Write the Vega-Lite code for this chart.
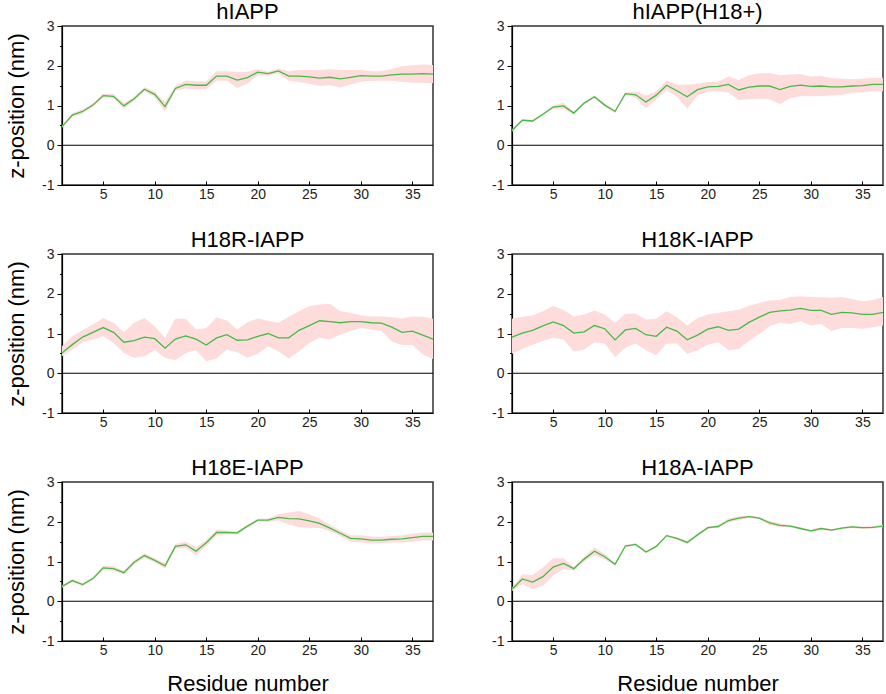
{
"$schema": "https://vega.github.io/schema/vega-lite/v6.json",
"padding": {"left": 4, "top": 0, "right": 2, "bottom": 0},
"background": "white",
"datasets": {
"d1": [
{"r":1,"z":0.47,"lo":0.44,"hi":0.50},{"r":2,"z":0.76,"lo":0.71,"hi":0.81},{"r":3,"z":0.85,"lo":0.80,"hi":0.90},{"r":4,"z":1.01,"lo":0.96,"hi":1.06},{"r":5,"z":1.25,"lo":1.20,"hi":1.30},{"r":6,"z":1.23,"lo":1.18,"hi":1.28},{"r":7,"z":0.99,"lo":0.92,"hi":1.06},{"r":8,"z":1.17,"lo":1.12,"hi":1.22},{"r":9,"z":1.41,"lo":1.36,"hi":1.46},{"r":10,"z":1.28,"lo":1.21,"hi":1.35},{"r":11,"z":0.97,"lo":0.85,"hi":1.09},{"r":12,"z":1.43,"lo":1.37,"hi":1.49},{"r":13,"z":1.53,"lo":1.43,"hi":1.63},{"r":14,"z":1.51,"lo":1.41,"hi":1.61},{"r":15,"z":1.51,"lo":1.41,"hi":1.61},{"r":16,"z":1.74,"lo":1.62,"hi":1.86},{"r":17,"z":1.74,"lo":1.62,"hi":1.86},{"r":18,"z":1.64,"lo":1.44,"hi":1.84},{"r":19,"z":1.70,"lo":1.55,"hi":1.85},{"r":20,"z":1.84,"lo":1.76,"hi":1.92},{"r":21,"z":1.80,"lo":1.75,"hi":1.85},{"r":22,"z":1.87,"lo":1.81,"hi":1.93},{"r":23,"z":1.74,"lo":1.62,"hi":1.86},{"r":24,"z":1.74,"lo":1.59,"hi":1.89},{"r":25,"z":1.72,"lo":1.55,"hi":1.89},{"r":26,"z":1.69,"lo":1.49,"hi":1.89},{"r":27,"z":1.71,"lo":1.51,"hi":1.91},{"r":28,"z":1.67,"lo":1.45,"hi":1.89},{"r":29,"z":1.71,"lo":1.53,"hi":1.89},{"r":30,"z":1.75,"lo":1.60,"hi":1.90},{"r":31,"z":1.74,"lo":1.62,"hi":1.86},{"r":32,"z":1.74,"lo":1.62,"hi":1.86},{"r":33,"z":1.77,"lo":1.62,"hi":1.92},{"r":34,"z":1.79,"lo":1.59,"hi":1.99},{"r":35,"z":1.79,"lo":1.57,"hi":2.01},{"r":36,"z":1.80,"lo":1.57,"hi":2.03},{"r":37,"z":1.79,"lo":1.56,"hi":2.02}
],
"d2": [
{"r":1,"z":0.37,"lo":0.34,"hi":0.40},{"r":2,"z":0.63,"lo":0.60,"hi":0.66},{"r":3,"z":0.61,"lo":0.58,"hi":0.64},{"r":4,"z":0.78,"lo":0.75,"hi":0.81},{"r":5,"z":0.96,"lo":0.92,"hi":1.00},{"r":6,"z":0.99,"lo":0.91,"hi":1.07},{"r":7,"z":0.81,"lo":0.77,"hi":0.85},{"r":8,"z":1.06,"lo":1.03,"hi":1.09},{"r":9,"z":1.22,"lo":1.19,"hi":1.25},{"r":10,"z":1.01,"lo":0.97,"hi":1.05},{"r":11,"z":0.85,"lo":0.81,"hi":0.89},{"r":12,"z":1.30,"lo":1.27,"hi":1.33},{"r":13,"z":1.27,"lo":1.19,"hi":1.35},{"r":14,"z":1.09,"lo":0.93,"hi":1.25},{"r":15,"z":1.26,"lo":1.16,"hi":1.36},{"r":16,"z":1.51,"lo":1.39,"hi":1.63},{"r":17,"z":1.37,"lo":1.22,"hi":1.52},{"r":18,"z":1.22,"lo":0.92,"hi":1.52},{"r":19,"z":1.40,"lo":1.25,"hi":1.55},{"r":20,"z":1.47,"lo":1.35,"hi":1.59},{"r":21,"z":1.48,"lo":1.36,"hi":1.60},{"r":22,"z":1.53,"lo":1.33,"hi":1.73},{"r":23,"z":1.39,"lo":1.14,"hi":1.64},{"r":24,"z":1.46,"lo":1.16,"hi":1.76},{"r":25,"z":1.49,"lo":1.17,"hi":1.81},{"r":26,"z":1.49,"lo":1.16,"hi":1.82},{"r":27,"z":1.40,"lo":1.04,"hi":1.76},{"r":28,"z":1.48,"lo":1.18,"hi":1.78},{"r":29,"z":1.51,"lo":1.23,"hi":1.79},{"r":30,"z":1.48,"lo":1.23,"hi":1.73},{"r":31,"z":1.49,"lo":1.24,"hi":1.74},{"r":32,"z":1.47,"lo":1.25,"hi":1.69},{"r":33,"z":1.47,"lo":1.27,"hi":1.67},{"r":34,"z":1.49,"lo":1.32,"hi":1.66},{"r":35,"z":1.50,"lo":1.33,"hi":1.67},{"r":36,"z":1.53,"lo":1.36,"hi":1.70},{"r":37,"z":1.53,"lo":1.36,"hi":1.70}
],
"d3": [
{"r":1,"z":0.51,"lo":0.43,"hi":0.68},{"r":2,"z":0.72,"lo":0.60,"hi":0.93},{"r":3,"z":0.91,"lo":0.78,"hi":1.08},{"r":4,"z":1.03,"lo":0.85,"hi":1.23},{"r":5,"z":1.15,"lo":0.93,"hi":1.39},{"r":6,"z":1.03,"lo":0.76,"hi":1.27},{"r":7,"z":0.78,"lo":0.51,"hi":1.03},{"r":8,"z":0.82,"lo":0.39,"hi":1.27},{"r":9,"z":0.91,"lo":0.43,"hi":1.39},{"r":10,"z":0.87,"lo":0.58,"hi":1.18},{"r":11,"z":0.63,"lo":0.39,"hi":0.89},{"r":12,"z":0.86,"lo":0.33,"hi":1.38},{"r":13,"z":0.94,"lo":0.51,"hi":1.37},{"r":14,"z":0.86,"lo":0.58,"hi":1.10},{"r":15,"z":0.71,"lo":0.30,"hi":1.14},{"r":16,"z":0.89,"lo":0.37,"hi":1.41},{"r":17,"z":0.97,"lo":0.60,"hi":1.33},{"r":18,"z":0.83,"lo":0.53,"hi":1.10},{"r":19,"z":0.84,"lo":0.39,"hi":1.28},{"r":20,"z":0.93,"lo":0.49,"hi":1.38},{"r":21,"z":1.00,"lo":0.68,"hi":1.32},{"r":22,"z":0.89,"lo":0.55,"hi":1.27},{"r":23,"z":0.89,"lo":0.37,"hi":1.42},{"r":24,"z":1.08,"lo":0.55,"hi":1.56},{"r":25,"z":1.20,"lo":0.76,"hi":1.69},{"r":26,"z":1.32,"lo":0.89,"hi":1.73},{"r":27,"z":1.30,"lo":0.85,"hi":1.75},{"r":28,"z":1.27,"lo":0.97,"hi":1.56},{"r":29,"z":1.30,"lo":1.06,"hi":1.52},{"r":30,"z":1.30,"lo":1.14,"hi":1.45},{"r":31,"z":1.27,"lo":1.10,"hi":1.43},{"r":32,"z":1.26,"lo":1.06,"hi":1.43},{"r":33,"z":1.16,"lo":0.80,"hi":1.41},{"r":34,"z":1.03,"lo":0.71,"hi":1.38},{"r":35,"z":1.06,"lo":0.71,"hi":1.43},{"r":36,"z":0.96,"lo":0.47,"hi":1.42},{"r":37,"z":0.86,"lo":0.36,"hi":1.37}
],
"d4": [
{"r":1,"z":0.91,"lo":0.49,"hi":1.37},{"r":2,"z":1.01,"lo":0.61,"hi":1.42},{"r":3,"z":1.08,"lo":0.72,"hi":1.45},{"r":4,"z":1.19,"lo":0.81,"hi":1.56},{"r":5,"z":1.29,"lo":0.89,"hi":1.69},{"r":6,"z":1.20,"lo":0.85,"hi":1.59},{"r":7,"z":1.01,"lo":0.55,"hi":1.43},{"r":8,"z":1.04,"lo":0.60,"hi":1.48},{"r":9,"z":1.20,"lo":0.78,"hi":1.58},{"r":10,"z":1.12,"lo":0.75,"hi":1.48},{"r":11,"z":0.84,"lo":0.40,"hi":1.27},{"r":12,"z":1.09,"lo":0.64,"hi":1.50},{"r":13,"z":1.13,"lo":0.75,"hi":1.50},{"r":14,"z":0.97,"lo":0.58,"hi":1.35},{"r":15,"z":0.93,"lo":0.45,"hi":1.37},{"r":16,"z":1.16,"lo":0.74,"hi":1.56},{"r":17,"z":1.06,"lo":0.75,"hi":1.41},{"r":18,"z":0.84,"lo":0.49,"hi":1.20},{"r":19,"z":0.96,"lo":0.58,"hi":1.39},{"r":20,"z":1.11,"lo":0.72,"hi":1.48},{"r":21,"z":1.17,"lo":0.78,"hi":1.52},{"r":22,"z":1.08,"lo":0.58,"hi":1.56},{"r":23,"z":1.11,"lo":0.61,"hi":1.60},{"r":24,"z":1.28,"lo":0.81,"hi":1.70},{"r":25,"z":1.41,"lo":0.99,"hi":1.77},{"r":26,"z":1.53,"lo":1.18,"hi":1.83},{"r":27,"z":1.57,"lo":1.27,"hi":1.84},{"r":28,"z":1.59,"lo":1.24,"hi":1.92},{"r":29,"z":1.63,"lo":1.31,"hi":1.94},{"r":30,"z":1.58,"lo":1.20,"hi":1.92},{"r":31,"z":1.58,"lo":1.24,"hi":1.91},{"r":32,"z":1.48,"lo":1.06,"hi":1.90},{"r":33,"z":1.53,"lo":1.14,"hi":1.92},{"r":34,"z":1.52,"lo":1.14,"hi":1.87},{"r":35,"z":1.48,"lo":1.12,"hi":1.81},{"r":36,"z":1.48,"lo":1.16,"hi":1.84},{"r":37,"z":1.53,"lo":1.20,"hi":1.92}
],
"d5": [
{"r":1,"z":0.37,"lo":0.34,"hi":0.40},{"r":2,"z":0.52,"lo":0.48,"hi":0.56},{"r":3,"z":0.42,"lo":0.38,"hi":0.46},{"r":4,"z":0.57,"lo":0.53,"hi":0.61},{"r":5,"z":0.84,"lo":0.78,"hi":0.90},{"r":6,"z":0.82,"lo":0.76,"hi":0.88},{"r":7,"z":0.72,"lo":0.67,"hi":0.77},{"r":8,"z":0.98,"lo":0.93,"hi":1.03},{"r":9,"z":1.15,"lo":1.09,"hi":1.21},{"r":10,"z":1.03,"lo":0.98,"hi":1.08},{"r":11,"z":0.89,"lo":0.82,"hi":0.96},{"r":12,"z":1.38,"lo":1.32,"hi":1.44},{"r":13,"z":1.42,"lo":1.34,"hi":1.50},{"r":14,"z":1.26,"lo":1.16,"hi":1.36},{"r":15,"z":1.47,"lo":1.39,"hi":1.55},{"r":16,"z":1.73,"lo":1.66,"hi":1.80},{"r":17,"z":1.73,"lo":1.68,"hi":1.78},{"r":18,"z":1.72,"lo":1.68,"hi":1.76},{"r":19,"z":1.89,"lo":1.85,"hi":1.93},{"r":20,"z":2.04,"lo":2.01,"hi":2.07},{"r":21,"z":2.04,"lo":2.00,"hi":2.08},{"r":22,"z":2.11,"lo":2.03,"hi":2.19},{"r":23,"z":2.08,"lo":1.93,"hi":2.23},{"r":24,"z":2.07,"lo":1.87,"hi":2.27},{"r":25,"z":2.02,"lo":1.85,"hi":2.19},{"r":26,"z":1.96,"lo":1.84,"hi":2.08},{"r":27,"z":1.84,"lo":1.76,"hi":1.92},{"r":28,"z":1.71,"lo":1.64,"hi":1.78},{"r":29,"z":1.58,"lo":1.50,"hi":1.66},{"r":30,"z":1.57,"lo":1.48,"hi":1.66},{"r":31,"z":1.54,"lo":1.45,"hi":1.63},{"r":32,"z":1.54,"lo":1.46,"hi":1.62},{"r":33,"z":1.56,"lo":1.48,"hi":1.64},{"r":34,"z":1.57,"lo":1.48,"hi":1.66},{"r":35,"z":1.60,"lo":1.50,"hi":1.70},{"r":36,"z":1.63,"lo":1.53,"hi":1.73},{"r":37,"z":1.63,"lo":1.53,"hi":1.73}
],
"d6": [
{"r":1,"z":0.30,"lo":0.26,"hi":0.34},{"r":2,"z":0.56,"lo":0.43,"hi":0.68},{"r":3,"z":0.48,"lo":0.30,"hi":0.66},{"r":4,"z":0.62,"lo":0.39,"hi":0.85},{"r":5,"z":0.86,"lo":0.64,"hi":1.08},{"r":6,"z":0.95,"lo":0.81,"hi":1.08},{"r":7,"z":0.82,"lo":0.77,"hi":0.87},{"r":8,"z":1.06,"lo":1.00,"hi":1.12},{"r":9,"z":1.26,"lo":1.16,"hi":1.36},{"r":10,"z":1.12,"lo":1.05,"hi":1.19},{"r":11,"z":0.93,"lo":0.89,"hi":0.97},{"r":12,"z":1.39,"lo":1.36,"hi":1.42},{"r":13,"z":1.43,"lo":1.40,"hi":1.46},{"r":14,"z":1.24,"lo":1.21,"hi":1.27},{"r":15,"z":1.38,"lo":1.35,"hi":1.41},{"r":16,"z":1.65,"lo":1.62,"hi":1.68},{"r":17,"z":1.58,"lo":1.55,"hi":1.61},{"r":18,"z":1.48,"lo":1.44,"hi":1.52},{"r":19,"z":1.67,"lo":1.64,"hi":1.70},{"r":20,"z":1.85,"lo":1.82,"hi":1.88},{"r":21,"z":1.88,"lo":1.85,"hi":1.91},{"r":22,"z":2.03,"lo":1.98,"hi":2.08},{"r":23,"z":2.09,"lo":2.04,"hi":2.14},{"r":24,"z":2.13,"lo":2.10,"hi":2.16},{"r":25,"z":2.09,"lo":2.06,"hi":2.12},{"r":26,"z":1.97,"lo":1.92,"hi":2.02},{"r":27,"z":1.91,"lo":1.86,"hi":1.96},{"r":28,"z":1.89,"lo":1.86,"hi":1.92},{"r":29,"z":1.83,"lo":1.80,"hi":1.86},{"r":30,"z":1.77,"lo":1.74,"hi":1.80},{"r":31,"z":1.83,"lo":1.80,"hi":1.86},{"r":32,"z":1.79,"lo":1.76,"hi":1.82},{"r":33,"z":1.84,"lo":1.81,"hi":1.87},{"r":34,"z":1.87,"lo":1.84,"hi":1.90},{"r":35,"z":1.85,"lo":1.82,"hi":1.88},{"r":36,"z":1.86,"lo":1.83,"hi":1.89},{"r":37,"z":1.89,"lo":1.86,"hi":1.92}
]
},
"columns": 2,
"align": "each",
"spacing": {"row": 26, "column": 53},
"concat": [
{"title": "hIAPP", "width": 371, "height": 159, "data": {"name": "d1"},
 "layer": [
  {"mark": {"type": "area", "color": "#ffdcdc"}, "encoding": {"x": {"field": "r", "type": "quantitative", "title": null, "scale": {"domain": [1, 37], "nice": false, "zero": false}, "axis": {"values": [5,10,15,20,25,30,35], "tickCount": 20}}, "y": {"field": "lo", "type": "quantitative", "title": "z-position (nm)", "scale": {"domain": [-1, 3], "nice": false}, "axis": {"values": [-1,-0.5,0,0.5,1,1.5,2,2.5,3], "tickCount": 20, "labelOverlap": false, "labelExpr": "datum.value % 1 === 0 ? '' + datum.value : ''", "tickSize": {"condition": {"test": "datum.value % 1 === 0", "value": 5}, "value": 2.5}}}, "y2": {"field": "hi"}}},
  {"data": {"values": [{}]}, "mark": {"type": "rule", "color": "#000", "strokeWidth": 1}, "encoding": {"y": {"datum": 0, "type": "quantitative"}}},
  {"mark": {"type": "line", "color": "#44bb44", "strokeWidth": 1.3}, "encoding": {"x": {"field": "r", "type": "quantitative", "title": null, "axis": {"values": [5,10,15,20,25,30,35], "tickCount": 20}}, "y": {"field": "z", "type": "quantitative", "title": "z-position (nm)", "axis": {"values": [-1,-0.5,0,0.5,1,1.5,2,2.5,3], "tickCount": 20, "labelOverlap": false, "labelExpr": "datum.value % 1 === 0 ? '' + datum.value : ''", "tickSize": {"condition": {"test": "datum.value % 1 === 0", "value": 5}, "value": 2.5}}}}}
 ]},
{"title": "hIAPP(H18+)", "width": 371, "height": 159, "data": {"name": "d2"},
 "layer": [
  {"mark": {"type": "area", "color": "#ffdcdc"}, "encoding": {"x": {"field": "r", "type": "quantitative", "title": null, "scale": {"domain": [1, 37], "nice": false, "zero": false}, "axis": {"values": [5,10,15,20,25,30,35], "tickCount": 20}}, "y": {"field": "lo", "type": "quantitative", "title": null, "scale": {"domain": [-1, 3], "nice": false}, "axis": {"values": [-1,-0.5,0,0.5,1,1.5,2,2.5,3], "tickCount": 20, "labelOverlap": false, "labelExpr": "datum.value % 1 === 0 ? '' + datum.value : ''", "tickSize": {"condition": {"test": "datum.value % 1 === 0", "value": 5}, "value": 2.5}}}, "y2": {"field": "hi"}}},
  {"data": {"values": [{}]}, "mark": {"type": "rule", "color": "#000", "strokeWidth": 1}, "encoding": {"y": {"datum": 0, "type": "quantitative"}}},
  {"mark": {"type": "line", "color": "#44bb44", "strokeWidth": 1.3}, "encoding": {"x": {"field": "r", "type": "quantitative", "title": null, "axis": {"values": [5,10,15,20,25,30,35], "tickCount": 20}}, "y": {"field": "z", "type": "quantitative", "title": null, "axis": {"values": [-1,-0.5,0,0.5,1,1.5,2,2.5,3], "tickCount": 20, "labelOverlap": false, "labelExpr": "datum.value % 1 === 0 ? '' + datum.value : ''", "tickSize": {"condition": {"test": "datum.value % 1 === 0", "value": 5}, "value": 2.5}}}}}
 ]},
{"title": "H18R-IAPP", "width": 371, "height": 159, "data": {"name": "d3"},
 "layer": [
  {"mark": {"type": "area", "color": "#ffdcdc"}, "encoding": {"x": {"field": "r", "type": "quantitative", "title": null, "scale": {"domain": [1, 37], "nice": false, "zero": false}, "axis": {"values": [5,10,15,20,25,30,35], "tickCount": 20}}, "y": {"field": "lo", "type": "quantitative", "title": "z-position (nm)", "scale": {"domain": [-1, 3], "nice": false}, "axis": {"values": [-1,-0.5,0,0.5,1,1.5,2,2.5,3], "tickCount": 20, "labelOverlap": false, "labelExpr": "datum.value % 1 === 0 ? '' + datum.value : ''", "tickSize": {"condition": {"test": "datum.value % 1 === 0", "value": 5}, "value": 2.5}}}, "y2": {"field": "hi"}}},
  {"data": {"values": [{}]}, "mark": {"type": "rule", "color": "#000", "strokeWidth": 1}, "encoding": {"y": {"datum": 0, "type": "quantitative"}}},
  {"mark": {"type": "line", "color": "#44bb44", "strokeWidth": 1.3}, "encoding": {"x": {"field": "r", "type": "quantitative", "title": null, "axis": {"values": [5,10,15,20,25,30,35], "tickCount": 20}}, "y": {"field": "z", "type": "quantitative", "title": "z-position (nm)", "axis": {"values": [-1,-0.5,0,0.5,1,1.5,2,2.5,3], "tickCount": 20, "labelOverlap": false, "labelExpr": "datum.value % 1 === 0 ? '' + datum.value : ''", "tickSize": {"condition": {"test": "datum.value % 1 === 0", "value": 5}, "value": 2.5}}}}}
 ]},
{"title": "H18K-IAPP", "width": 371, "height": 159, "data": {"name": "d4"},
 "layer": [
  {"mark": {"type": "area", "color": "#ffdcdc"}, "encoding": {"x": {"field": "r", "type": "quantitative", "title": null, "scale": {"domain": [1, 37], "nice": false, "zero": false}, "axis": {"values": [5,10,15,20,25,30,35], "tickCount": 20}}, "y": {"field": "lo", "type": "quantitative", "title": null, "scale": {"domain": [-1, 3], "nice": false}, "axis": {"values": [-1,-0.5,0,0.5,1,1.5,2,2.5,3], "tickCount": 20, "labelOverlap": false, "labelExpr": "datum.value % 1 === 0 ? '' + datum.value : ''", "tickSize": {"condition": {"test": "datum.value % 1 === 0", "value": 5}, "value": 2.5}}}, "y2": {"field": "hi"}}},
  {"data": {"values": [{}]}, "mark": {"type": "rule", "color": "#000", "strokeWidth": 1}, "encoding": {"y": {"datum": 0, "type": "quantitative"}}},
  {"mark": {"type": "line", "color": "#44bb44", "strokeWidth": 1.3}, "encoding": {"x": {"field": "r", "type": "quantitative", "title": null, "axis": {"values": [5,10,15,20,25,30,35], "tickCount": 20}}, "y": {"field": "z", "type": "quantitative", "title": null, "axis": {"values": [-1,-0.5,0,0.5,1,1.5,2,2.5,3], "tickCount": 20, "labelOverlap": false, "labelExpr": "datum.value % 1 === 0 ? '' + datum.value : ''", "tickSize": {"condition": {"test": "datum.value % 1 === 0", "value": 5}, "value": 2.5}}}}}
 ]},
{"title": "H18E-IAPP", "width": 371, "height": 159, "data": {"name": "d5"},
 "layer": [
  {"mark": {"type": "area", "color": "#ffdcdc"}, "encoding": {"x": {"field": "r", "type": "quantitative", "title": "Residue number", "scale": {"domain": [1, 37], "nice": false, "zero": false}, "axis": {"values": [5,10,15,20,25,30,35], "tickCount": 20}}, "y": {"field": "lo", "type": "quantitative", "title": "z-position (nm)", "scale": {"domain": [-1, 3], "nice": false}, "axis": {"values": [-1,-0.5,0,0.5,1,1.5,2,2.5,3], "tickCount": 20, "labelOverlap": false, "labelExpr": "datum.value % 1 === 0 ? '' + datum.value : ''", "tickSize": {"condition": {"test": "datum.value % 1 === 0", "value": 5}, "value": 2.5}}}, "y2": {"field": "hi"}}},
  {"data": {"values": [{}]}, "mark": {"type": "rule", "color": "#000", "strokeWidth": 1}, "encoding": {"y": {"datum": 0, "type": "quantitative"}}},
  {"mark": {"type": "line", "color": "#44bb44", "strokeWidth": 1.3}, "encoding": {"x": {"field": "r", "type": "quantitative", "title": "Residue number", "axis": {"values": [5,10,15,20,25,30,35], "tickCount": 20}}, "y": {"field": "z", "type": "quantitative", "title": "z-position (nm)", "axis": {"values": [-1,-0.5,0,0.5,1,1.5,2,2.5,3], "tickCount": 20, "labelOverlap": false, "labelExpr": "datum.value % 1 === 0 ? '' + datum.value : ''", "tickSize": {"condition": {"test": "datum.value % 1 === 0", "value": 5}, "value": 2.5}}}}}
 ]},
{"title": "H18A-IAPP", "width": 371, "height": 159, "data": {"name": "d6"},
 "layer": [
  {"mark": {"type": "area", "color": "#ffdcdc"}, "encoding": {"x": {"field": "r", "type": "quantitative", "title": "Residue number", "scale": {"domain": [1, 37], "nice": false, "zero": false}, "axis": {"values": [5,10,15,20,25,30,35], "tickCount": 20}}, "y": {"field": "lo", "type": "quantitative", "title": null, "scale": {"domain": [-1, 3], "nice": false}, "axis": {"values": [-1,-0.5,0,0.5,1,1.5,2,2.5,3], "tickCount": 20, "labelOverlap": false, "labelExpr": "datum.value % 1 === 0 ? '' + datum.value : ''", "tickSize": {"condition": {"test": "datum.value % 1 === 0", "value": 5}, "value": 2.5}}}, "y2": {"field": "hi"}}},
  {"data": {"values": [{}]}, "mark": {"type": "rule", "color": "#000", "strokeWidth": 1}, "encoding": {"y": {"datum": 0, "type": "quantitative"}}},
  {"mark": {"type": "line", "color": "#44bb44", "strokeWidth": 1.3}, "encoding": {"x": {"field": "r", "type": "quantitative", "title": "Residue number", "axis": {"values": [5,10,15,20,25,30,35], "tickCount": 20}}, "y": {"field": "z", "type": "quantitative", "title": null, "axis": {"values": [-1,-0.5,0,0.5,1,1.5,2,2.5,3], "tickCount": 20, "labelOverlap": false, "labelExpr": "datum.value % 1 === 0 ? '' + datum.value : ''", "tickSize": {"condition": {"test": "datum.value % 1 === 0", "value": 5}, "value": 2.5}}}}}
 ]}
],
"config": {
 "view": {"stroke": "#333", "strokeWidth": 1.5},
 "title": {"font": "Liberation Sans", "fontSize": 22, "fontWeight": "normal", "color": "#000", "offset": -5},
 "axis": {"grid": false, "domainColor": "#000", "domainWidth": 1.2, "tickColor": "#000", "labelFont": "Liberation Sans", "labelFontSize": 14, "labelColor": "#222", "titleFont": "Liberation Sans", "titleFontWeight": "normal", "titleColor": "#000"},
 "axisX": {"tickSize": -4, "labelPadding": 6, "titleFontSize": 22, "titlePadding": 16},
 "axisY": {"labelPadding": 3, "titleFontSize": 22, "titlePadding": 13, "labelOverlap": false}
}
}
